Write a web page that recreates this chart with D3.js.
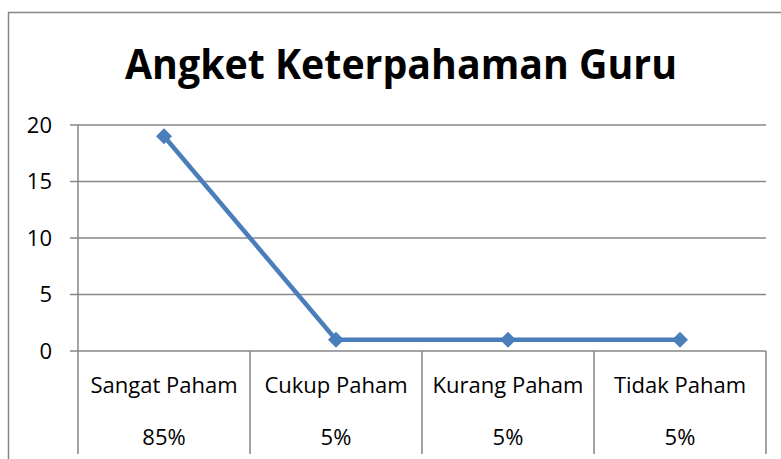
<!DOCTYPE html>
<html>
<head>
<meta charset="utf-8">
<script src="https://cdn.jsdelivr.net/npm/d3@7"></script>
<style>
  body { margin: 0; background: #fff; }
  text { font-family: "Open Sans", "Noto Sans", sans-serif; fill: #000; }
</style>
</head>
<body>
<div id="chart"></div>
<script>
// chart data
var categories = ["Sangat Paham", "Cukup Paham", "Kurang Paham", "Tidak Paham"];
var percents = ["85%", "5%", "5%", "5%"];
var values = [19, 1, 1, 1];
var yTicks = [0, 5, 10, 15, 20];

var svgWidth = 781;
var svgHeight = 459;

var margin = { top: 125, right: 15, bottom: 108, left: 78 };
var width = svgWidth - margin.left - margin.right;
var height = svgHeight - margin.top - margin.bottom;

var svg = d3.select("#chart")
  .append("svg")
  .attr("width", svgWidth)
  .attr("height", svgHeight);

// outer frame
svg.append("rect")
  .attr("x", 8.5)
  .attr("y", 12.5)
  .attr("width", 800)
  .attr("height", 500)
  .attr("fill", "none")
  .attr("stroke", "#868686")
  .attr("stroke-width", 1.5);

// title
svg.append("text")
  .attr("x", 401)
  .attr("y", 79)
  .attr("text-anchor", "middle")
  .attr("font-size", 41)
  .attr("font-weight", "bold")
  .attr("textLength", 552)
  .attr("lengthAdjust", "spacingAndGlyphs")
  .text("Angket Keterpahaman Guru");

var chartGroup = svg.append("g")
  .attr("transform", `translate(${margin.left}, ${margin.top})`);

var xScale = d3.scaleBand()
  .domain(categories)
  .range([0, width]);

var yScale = d3.scaleLinear()
  .domain([0, 20])
  .range([height, 0]);

// gridlines + left ticks
chartGroup.append("g")
  .selectAll("line")
  .data(yTicks)
  .enter()
  .append("line")
  .attr("x1", -8)
  .attr("x2", width)
  .attr("y1", d => yScale(d))
  .attr("y2", d => yScale(d))
  .attr("stroke", "#868686")
  .attr("stroke-width", 1.5);

// y labels
chartGroup.append("g")
  .selectAll("text")
  .data(yTicks)
  .enter()
  .append("text")
  .attr("x", -26)
  .attr("y", d => yScale(d))
  .attr("dy", "0.35em")
  .attr("text-anchor", "end")
  .attr("font-size", 22)
  .text(d => d);

// y axis line
chartGroup.append("line")
  .attr("x1", 0).attr("x2", 0)
  .attr("y1", 0).attr("y2", height)
  .attr("stroke", "#868686")
  .attr("stroke-width", 1.5);

// category separators (extend down through the label rows)
var bounds = categories.map(c => xScale(c)).concat([width]);
chartGroup.append("g")
  .selectAll("line")
  .data(bounds)
  .enter()
  .append("line")
  .attr("x1", d => d)
  .attr("x2", d => d)
  .attr("y1", height)
  .attr("y2", height + 103)
  .attr("stroke", "#868686")
  .attr("stroke-width", 1.5);

// category labels
chartGroup.append("g")
  .selectAll("text")
  .data(categories)
  .enter()
  .append("text")
  .attr("x", d => xScale(d) + xScale.bandwidth() / 2)
  .attr("y", height + 42)
  .attr("text-anchor", "middle")
  .attr("font-size", 22)
  .text(d => d);

// percentage labels
chartGroup.append("g")
  .selectAll("text")
  .data(percents)
  .enter()
  .append("text")
  .attr("x", (d, i) => xScale(categories[i]) + xScale.bandwidth() / 2)
  .attr("y", height + 94)
  .attr("text-anchor", "middle")
  .attr("font-size", 22)
  .text(d => d);

// line
var line = d3.line()
  .x((d, i) => xScale(categories[i]) + xScale.bandwidth() / 2)
  .y(d => yScale(d));

chartGroup.append("path")
  .datum(values)
  .attr("d", line)
  .attr("fill", "none")
  .attr("stroke", "#4A7EBB")
  .attr("stroke-width", 4.5);

// diamond markers
chartGroup.append("g")
  .selectAll("path")
  .data(values)
  .enter()
  .append("path")
  .attr("d", d3.symbol().type(d3.symbolSquare).size(128))
  .attr("transform", (d, i) => `translate(${xScale(categories[i]) + xScale.bandwidth() / 2}, ${yScale(d)}) rotate(45)`)
  .attr("fill", "#4A7EBB");
</script>
</body>
</html>
